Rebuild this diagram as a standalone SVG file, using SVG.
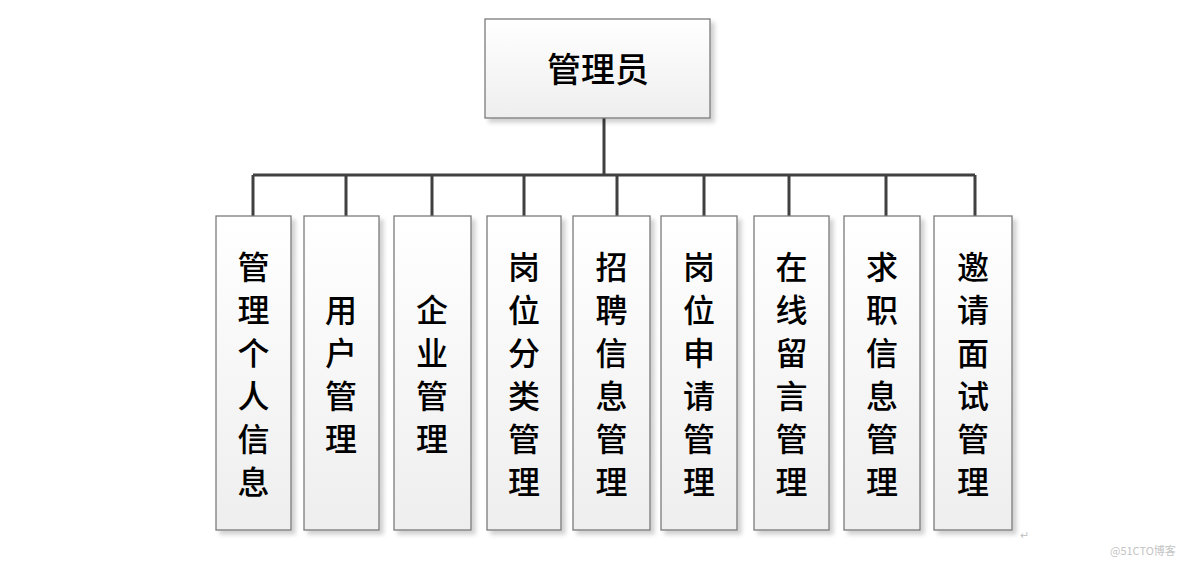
<svg xmlns="http://www.w3.org/2000/svg" width="1184" height="564" viewBox="0 0 1184 564">
<defs>
<linearGradient id="g" x1="0" y1="0" x2="0" y2="1">
<stop offset="0" stop-color="#ffffff"/>
<stop offset="1" stop-color="#eeeeee"/>
</linearGradient>
<filter id="sh" x="-10%" y="-10%" width="130%" height="130%">
<feDropShadow dx="4" dy="4" stdDeviation="2" flood-color="#000" flood-opacity="0.18"/>
</filter>
<style>
.box{fill:url(#g);stroke:#7a7a7a;stroke-width:1.3;filter:url(#sh)}
.t{font-family:"Noto Sans CJK SC","Noto Sans",sans-serif;font-size:32px;font-weight:500;fill:#000;text-anchor:middle;dominant-baseline:central}
.top{font-size:34px}
.ln{stroke:#404040;stroke-width:3;fill:none}
.wm{font-family:"Noto Sans CJK SC","Liberation Sans",sans-serif;font-size:11px;fill:#c4c4c4}
</style>
</defs>
<rect width="1184" height="564" fill="#fff"/>
<g id="connectors">
<path class="ln" d="M604 118V175M253 175H975M253 175V216M346 175V216M432 175V216M524 175V216M617 175V216M704 175V216M789 175V216M886 175V216M975 175V216"/>
</g>
<g id="n0"><rect class="box" x="485" y="19" width="225" height="99"/><text class="t top" x="598" y="67">管理员</text></g>
<g id="n1"><rect class="box" x="216" y="216" width="75" height="314"/>
<text class="t" x="253.5" y="265">管</text><text class="t" x="253.5" y="308">理</text><text class="t" x="253.5" y="351">个</text><text class="t" x="253.5" y="394">人</text><text class="t" x="253.5" y="437">信</text><text class="t" x="253.5" y="480">息</text></g>
<g id="n2"><rect class="box" x="304" y="216" width="75" height="314"/>
<text class="t" x="341" y="308">用</text><text class="t" x="341" y="351">户</text><text class="t" x="341" y="394">管</text><text class="t" x="341" y="437">理</text></g>
<g id="n3"><rect class="box" x="394" y="216" width="77" height="314"/>
<text class="t" x="432" y="308">企</text><text class="t" x="432" y="351">业</text><text class="t" x="432" y="394">管</text><text class="t" x="432" y="437">理</text></g>
<g id="n4"><rect class="box" x="487" y="216" width="74" height="314"/>
<text class="t" x="524" y="265">岗</text><text class="t" x="524" y="308">位</text><text class="t" x="524" y="351">分</text><text class="t" x="524" y="394">类</text><text class="t" x="524" y="437">管</text><text class="t" x="524" y="480">理</text></g>
<g id="n5"><rect class="box" x="573" y="216" width="77" height="314"/>
<text class="t" x="611.5" y="265">招</text><text class="t" x="611.5" y="308">聘</text><text class="t" x="611.5" y="351">信</text><text class="t" x="611.5" y="394">息</text><text class="t" x="611.5" y="437">管</text><text class="t" x="611.5" y="480">理</text></g>
<g id="n6"><rect class="box" x="661" y="216" width="76" height="314"/>
<text class="t" x="699" y="265">岗</text><text class="t" x="699" y="308">位</text><text class="t" x="699" y="351">申</text><text class="t" x="699" y="394">请</text><text class="t" x="699" y="437">管</text><text class="t" x="699" y="480">理</text></g>
<g id="n7"><rect class="box" x="754" y="216" width="75" height="314"/>
<text class="t" x="791.5" y="265">在</text><text class="t" x="791.5" y="308">线</text><text class="t" x="791.5" y="351">留</text><text class="t" x="791.5" y="394">言</text><text class="t" x="791.5" y="437">管</text><text class="t" x="791.5" y="480">理</text></g>
<g id="n8"><rect class="box" x="844" y="216" width="76" height="314"/>
<text class="t" x="882" y="265">求</text><text class="t" x="882" y="308">职</text><text class="t" x="882" y="351">信</text><text class="t" x="882" y="394">息</text><text class="t" x="882" y="437">管</text><text class="t" x="882" y="480">理</text></g>
<g id="n9"><rect class="box" x="934" y="216" width="78" height="314"/>
<text class="t" x="973" y="265">邀</text><text class="t" x="973" y="308">请</text><text class="t" x="973" y="351">面</text><text class="t" x="973" y="394">试</text><text class="t" x="973" y="437">管</text><text class="t" x="973" y="480">理</text></g>
<text class="wm" x="1020" y="539" font-size="9">↵</text>
<text class="wm" x="1110" y="555">@51CTO博客</text>
</svg>
